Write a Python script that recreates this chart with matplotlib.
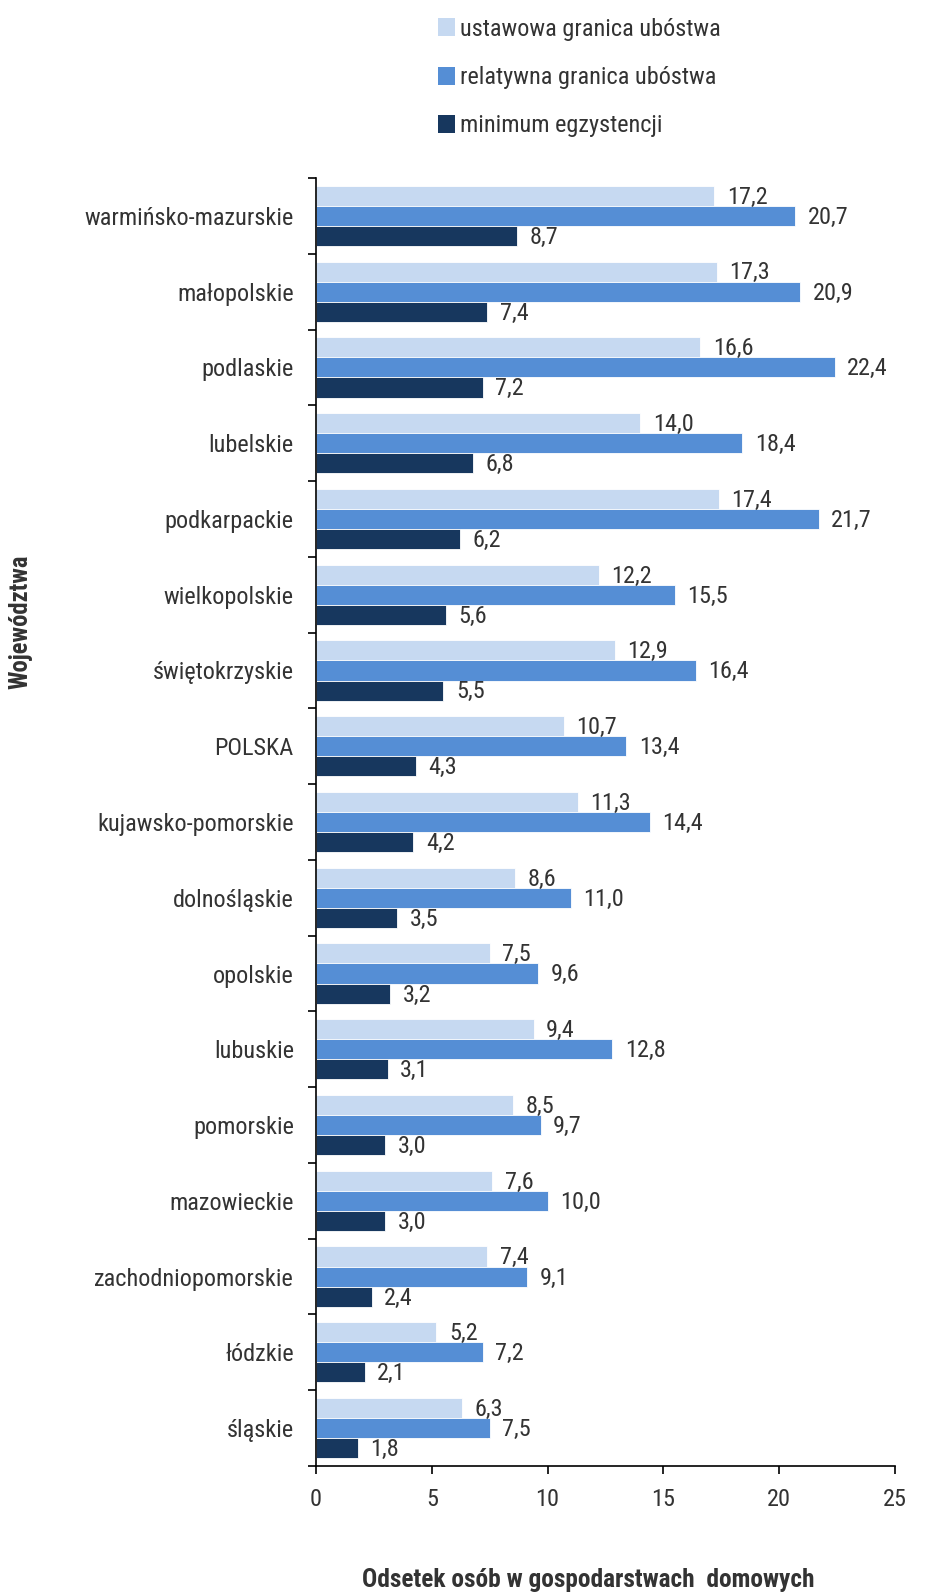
import matplotlib
matplotlib.use("Agg")
import matplotlib.pyplot as plt
import numpy as np
from matplotlib.patches import Patch
from matplotlib import font_manager as fm

available = {f.name for f in fm.fontManager.ttflist}
narrow_candidates = ['Liberation Sans Narrow', 'Arial Narrow', 'Roboto Condensed', 'DejaVu Sans Condensed']
chosen = [f for f in narrow_candidates if f in available]
base_family = (chosen[:1] if chosen else []) + ['Liberation Sans', 'DejaVu Sans']
plt.rcParams['font.family'] = base_family

categories = ["warmińsko-mazurskie", "małopolskie", "podlaskie", "lubelskie", "podkarpackie",
              "wielkopolskie", "świętokrzyskie", "POLSKA", "kujawsko-pomorskie", "dolnośląskie",
              "opolskie", "lubuskie", "pomorskie", "mazowieckie", "zachodniopomorskie",
              "łódzkie", "śląskie"]
ustawowa = [17.2, 17.3, 16.6, 14.0, 17.4, 12.2, 12.9, 10.7, 11.3, 8.6, 7.5, 9.4, 8.5, 7.6, 7.4, 5.2, 6.3]
relatywna = [20.7, 20.9, 22.4, 18.4, 21.7, 15.5, 16.4, 13.4, 14.4, 11.0, 9.6, 12.8, 9.7, 10.0, 9.1, 7.2, 7.5]
minimum = [8.7, 7.4, 7.2, 6.8, 6.2, 5.6, 5.5, 4.3, 4.2, 3.5, 3.2, 3.1, 3.0, 3.0, 2.4, 2.1, 1.8]
series_names = ["ustawowa granica ubóstwa", "relatywna granica ubóstwa", "minimum egzystencji"]
x_ticks = [0, 5, 10, 15, 20, 25]

colors = ["#C6D9F1", "#558ED5", "#17375E"]
text_color = "#333333"

fig = plt.figure(figsize=(9.28, 15.96), dpi=100)
renderer = fig.canvas.get_renderer()

def fit_size(s, target_px, weight="normal", ref=12.0):
    t = fig.text(0, 0, s, fontsize=ref, fontweight=weight)
    w = t.get_window_extent(renderer=renderer).width
    t.remove()
    return ref * target_px / w

fs = fit_size("warmińsko-mazurskie", 208)
fs_leg = fit_size("ustawowa granica ubóstwa", 712 - 452)
fs_xl = fit_size("Odsetek osób w gospodarstwach  domowych", 455, weight="bold")
fs_yl = fit_size("Województwa", 135, weight="bold")

ax = fig.add_axes([316/928, 1 - 1466/1596, (895-316)/928, (1466-178)/1596])

n = len(categories)
pos = np.arange(n)[::-1].astype(float)
bh = 0.265
offsets = [bh, 0.0, -bh]

for vals, off, c, name in zip([ustawowa, relatywna, minimum], offsets, colors, series_names):
    bars = ax.barh(pos + off, vals, height=bh, color=c, edgecolor="white", linewidth=0.6, label=name)
    for b, v in zip(bars, vals):
        ax.annotate(f"{v:.1f}".replace(".", ","),
                    xy=(b.get_width(), b.get_y() + b.get_height()/2),
                    xytext=(9, -1), textcoords="offset points",
                    ha="left", va="center", fontsize=fs, color=text_color)

ax.set_xlim(0, 25)
ax.set_ylim(-0.5, n - 0.5)
ax.set_xticks(x_ticks)
ax.set_xticklabels([str(t) for t in x_ticks], fontsize=fs, color=text_color)
ax.set_yticks(pos)
ax.set_yticklabels(categories, fontsize=fs, color=text_color)
ax.set_yticks(np.arange(-0.5, n, 1.0), minor=True)
ax.tick_params(axis="y", which="major", length=0, pad=16)
ax.tick_params(axis="y", which="minor", length=6, direction="out", width=1.2)
ax.tick_params(axis="x", which="major", length=6, direction="out", width=1.2, pad=10)
for s in ["top", "right"]:
    ax.spines[s].set_visible(False)
for s in ["left", "bottom"]:
    ax.spines[s].set_linewidth(1.2)
    ax.spines[s].set_color("black")

fig.text(20/928, 1 - 622/1596, "Województwa", rotation=90, ha="center", va="center",
         fontsize=fs_yl, fontweight="bold", color=text_color)
fig.text(588/928, 1 - 1580/1596, "Odsetek osób w gospodarstwach  domowych", ha="center", va="center",
         fontsize=fs_xl, fontweight="bold", color=text_color)

handles = [Patch(facecolor=c, edgecolor="none") for c in colors]
fig.legend(handles, series_names, loc="upper left", bbox_to_anchor=(416/928, 1 + 4/1596),
           frameon=False, fontsize=fs_leg, handlelength=0.72, handleheight=0.75,
           handletextpad=0.2, labelspacing=1.04, labelcolor=text_color)

fig.savefig("out.png", dpi=100)
